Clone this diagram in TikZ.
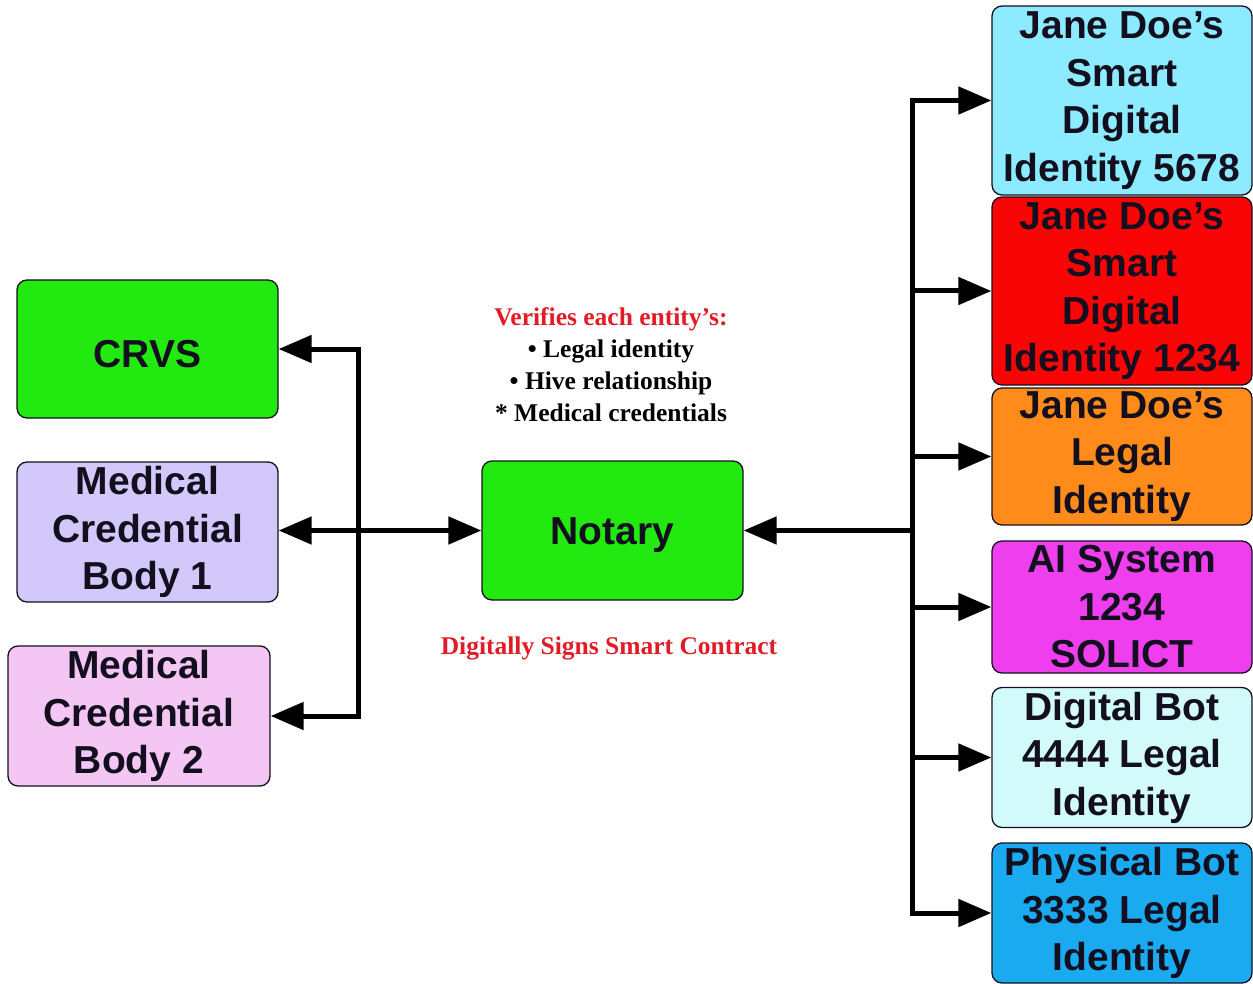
\documentclass[tikz,border=0pt]{standalone}
\usepackage{fontspec}
\usetikzlibrary{arrows.meta}
\newfontfamily\boxfont{Liberation Sans}[BoldFont={Liberation Sans Bold}]
\newfontfamily\notefont{Liberation Serif}[BoldFont={Liberation Serif Bold}]
\definecolor{boxgreen}{RGB}{34,234,16}
\definecolor{lavender}{RGB}{210,200,250}
\definecolor{pinkbox}{RGB}{243,198,243}
\definecolor{skycyan}{RGB}{140,235,255}
\definecolor{redbox}{RGB}{250,5,5}
\definecolor{orangebox}{RGB}{255,140,26}
\definecolor{magentabox}{RGB}{238,62,238}
\definecolor{palecyan}{RGB}{210,250,250}
\definecolor{bluebox}{RGB}{26,170,240}
\definecolor{notered}{RGB}{225,28,38}
\definecolor{inkdark}{RGB}{20,15,30}
\tikzset{
  entity/.style={draw=inkdark, line width=1.3pt, rounded corners=10pt,
    inner sep=0pt, align=center, text=inkdark,
    font=\boxfont\bfseries\fontsize{39}{47.5}\selectfont,
    % a tall strut on the first line sets the text a little lower in its box
    execute at begin node={\rule{0pt}{37pt}}},
  conn/.style={line width=5pt, black},
  tip/.tip={Triangle[length=33pt,width=27pt]},
  note/.style={align=center, font=\notefont\bfseries\fontsize{25.5}{32}\selectfont}
}
\begin{document}
\begin{tikzpicture}[x=1pt,y=-1pt]
\useasboundingbox (0,0) rectangle (1253,984);

% left column
\node[entity, fill=boxgreen, minimum width=261pt, minimum height=138pt] (crvs) at (147.5,349) {CRVS};
\node[entity, fill=lavender, minimum width=261pt, minimum height=140pt] (mcb1) at (147.5,532) {Medical\\Credential\\Body 1};
\node[entity, fill=pinkbox, minimum width=262pt, minimum height=140pt] (mcb2) at (139,716) {Medical\\Credential\\Body 2};

% notary and its notes
\node[entity, fill=boxgreen, minimum width=261pt, minimum height=139pt] (notary) at (612.5,530.5) {Notary};
\node[note, anchor=south] (verify) at (611,425) {\textcolor{notered}{Verifies each entity’s:}\\
  \textbullet\ Legal identity\\ \textbullet\ Hive relationship\\ * Medical credentials};
\node[note, text=notered] (signs) at (609,648) {Digitally Signs Smart Contract};

% right column
\node[entity, fill=skycyan, minimum width=260pt, minimum height=189pt] (r1) at (1122,100.5) {Jane Doe’s\\Smart\\Digital\\Identity 5678};
\node[entity, fill=redbox, minimum width=260pt, minimum height=188pt] (r2) at (1122,291) {Jane Doe’s\\Smart\\Digital\\Identity 1234};
\node[entity, fill=orangebox, minimum width=260pt, minimum height=137pt] (r3) at (1122,456.5) {Jane Doe’s\\Legal\\Identity};
\node[entity, fill=magentabox, minimum width=260pt, minimum height=132pt] (r4) at (1122,607) {AI System\\1234\\SOLICT};
\node[entity, fill=palecyan, minimum width=260pt, minimum height=140pt] (r5) at (1122,757.5) {Digital Bot\\4444 Legal\\Identity};
\node[entity, fill=bluebox, minimum width=260pt, minimum height=140pt] (r6) at (1122,913) {Physical Bot\\3333 Legal\\Identity};

% left connectors
\draw[conn, {tip}-{tip}] (crvs.east) -- ++(80,0) |- (mcb2.east);
\draw[conn, {tip}-{tip}] (mcb1.east |- notary.west) -- (notary.west);

% right bus
\coordinate (bus) at (912,0);
\draw[conn, line cap=rect] (r1.west -| bus) -- (r6.west -| bus);
\draw[conn, -{tip}] (notary.east -| bus) -- (notary.east);
\foreach \r in {r1,r2,r3,r4,r5,r6}
  \draw[conn, -{tip}] (\r.west -| bus) -- (\r.west);
\end{tikzpicture}
\end{document}
